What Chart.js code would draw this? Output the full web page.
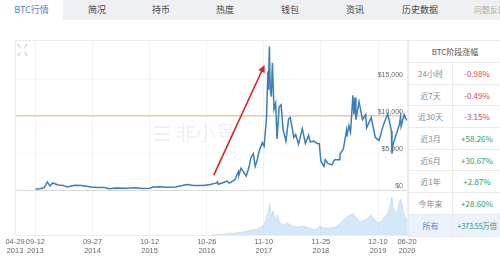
<!DOCTYPE html>
<html>
<head>
<meta charset="utf-8">
<script src="https://cdn.jsdelivr.net/npm/chart.js@4.4.1/dist/chart.umd.min.js"></script>
<style>
  body { margin: 0; width: 500px; height: 258px; overflow: hidden; background: #fff;
         font-family: "Noto Sans CJK SC", "Noto Sans", sans-serif; position: relative; }
  #tabs { position: absolute; left: 0; top: 0; width: 500px; height: 20px; background: #eef0f3; z-index: 3; }
  #tabs span { position: absolute; top: 0; line-height: 20px; font-size: 9px; color: #444; transform: translateX(-50%); white-space: nowrap; }
  #tabs .on { left: 0; width: 63px; background: #fff; color: #4d86cc; transform: none; text-align: center; }
  #wrap { position: absolute; left: 0; top: 0; }
  #mark { position: absolute; left: 153px; top: 118px; font-size: 20px; color: rgba(0,0,0,0.06); white-space: nowrap; z-index: 2; }
  #icon { position: absolute; left: 17px; top: 42px; font-size: 5px; line-height: 7px; color: #999; z-index: 2; }
  #tbl { position: absolute; left: 408px; top: 40px; width: 94px; border-collapse: collapse; background: #fff; z-index: 2; }
  #tbl td { border: 1px solid #e9e9e9; height: 20.7px; padding: 0; font-size: 8px; text-align: center; color: #888; white-space: nowrap; }
  #tbl td.v { width: 48px; }
  #tbl .hd td { height: 21px; color: #555; }
  .neg { color: #c94a5e !important; }
  .pos { color: #2b9a6b !important; }
  #tbl .all td { background: #eaf2fb; }
  #tbl .all td:first-child { color: #4d86cc; }
  #tbl .all td.v { font-size: 7.5px; letter-spacing: -0.3px; }
</style>
</head>
<body>
<div id="tabs">
  <span class="on">BTC行情</span>
  <span style="left:97px">简况</span>
  <span style="left:161px">持币</span>
  <span style="left:225px">热度</span>
  <span style="left:290px">钱包</span>
  <span style="left:355px">资讯</span>
  <span style="left:420px">历史数据</span>
  <span style="left:490px;color:#aaa;font-size:8px">问题反馈</span>
</div>
<div id="wrap"><canvas id="chart" width="420" height="258"></canvas></div>
<div id="mark">☰ 非小号</div>
<div id="icon">↖ ↗<br>↙ ↘</div>
<table id="tbl">
  <tr class="hd"><td colspan="2">BTC阶段涨幅</td></tr>
  <tr><td>24小时</td><td class="v neg">-0.98%</td></tr>
  <tr><td>近7天</td><td class="v neg">-0.49%</td></tr>
  <tr><td>近30天</td><td class="v neg">-3.15%</td></tr>
  <tr><td>近3月</td><td class="v pos">+58.26%</td></tr>
  <tr><td>近6月</td><td class="v pos">+30.67%</td></tr>
  <tr><td>近1年</td><td class="v pos">+2.87%</td></tr>
  <tr><td>今年来</td><td class="v pos">+28.60%</td></tr>
  <tr class="all"><td>所有</td><td class="v pos">+373.55万倍</td></tr>
</table>
<script>
// 价格 (USD)
const priceDates = [
  '2013-09-12','2013-10-15','2013-11-10','2013-11-30','2013-12-18','2014-01-05','2014-02-10','2014-03-15',
  '2014-04-10','2014-06-01','2014-07-15','2014-09-20','2014-11-01','2014-12-15','2015-01-14','2015-03-01',
  '2015-05-01','2015-07-10','2015-08-25','2015-10-15','2015-11-04','2015-12-15','2016-02-01','2016-04-01',
  '2016-06-17','2016-08-01','2016-10-01','2016-11-20','2016-12-31','2017-01-05','2017-01-11','2017-02-20',
  '2017-03-10','2017-03-25','2017-04-30','2017-05-25','2017-05-28','2017-06-11','2017-07-16','2017-08-05',
  '2017-08-15','2017-09-01','2017-09-14','2017-09-25','2017-10-12','2017-10-31','2017-11-12','2017-11-28',
  '2017-12-07','2017-12-10','2017-12-17','2017-12-22','2017-12-30','2018-01-06','2018-01-17','2018-01-28',
  '2018-02-06','2018-02-20','2018-03-05','2018-03-18','2018-04-06','2018-04-24','2018-05-05','2018-05-29',
  '2018-06-10','2018-06-29','2018-07-24','2018-08-14','2018-09-04','2018-09-15','2018-10-10','2018-10-30',
  '2018-11-14','2018-11-25','2018-12-15','2018-12-24','2019-01-10','2019-02-07','2019-02-24','2019-03-31',
  '2019-04-02','2019-04-23','2019-05-14','2019-05-17','2019-05-30','2019-06-10','2019-06-26','2019-07-02',
  '2019-07-10','2019-07-16','2019-08-06','2019-08-29','2019-09-19','2019-09-25','2019-10-26','2019-11-22',
  '2019-12-17','2020-01-15','2020-02-13','2020-03-08','2020-03-12','2020-03-20','2020-04-06','2020-04-30',
  '2020-05-08','2020-05-12','2020-06-01','2020-06-10','2020-06-20'
];
const prices = [
  130, 160, 330, 1100, 550, 950, 680, 620,
  420, 650, 620, 410, 330, 350, 180, 260,
  235, 290, 210, 250, 410, 450, 370, 420,
  750, 600, 610, 740, 960, 1100, 780, 1050,
  1200, 940, 1350, 2500, 2000, 2950, 1900, 3200,
  4300, 4900, 3200, 3900, 5400, 6400, 5900, 9800,
  16000, 13500, 19400, 13800, 12600, 17200, 10900, 11700,
  6900, 11200, 11500, 8200, 6600, 9600, 9800, 7100,
  7500, 6200, 8300, 6300, 7400, 6500, 6600, 6300,
  6300, 3900, 3200, 4100, 3600, 3400, 4100, 4100,
  4900, 5500, 8000, 7200, 8700, 7800, 12800, 10200,
  12500, 9500, 11900, 9500, 10200, 8400, 9800, 7100,
  6700, 8800, 10300, 8000, 4900, 6200, 7300, 8800,
  9900, 8600, 10200, 9700, 9400
];

// 成交量 (相对值)
const volumeDates = [
  '2016-12-01','2017-03-01','2017-05-01','2017-07-01','2017-08-20','2017-10-01','2017-11-10','2017-12-08',
  '2017-12-20','2017-12-28','2018-01-10','2018-01-25','2018-02-06','2018-02-25','2018-03-20','2018-04-15',
  '2018-05-20','2018-06-25','2018-08-01','2018-09-10','2018-10-15','2018-11-20','2018-12-20','2019-01-20',
  '2019-03-01','2019-04-05','2019-05-15','2019-06-27','2019-07-15','2019-08-15','2019-09-25','2019-10-26',
  '2019-11-22','2019-12-20','2020-01-15','2020-02-15','2020-03-12','2020-03-20','2020-04-15','2020-04-30',
  '2020-05-10','2020-05-25','2020-06-10','2020-06-20'
];
const volumes = [
  0, 1, 2, 3, 5, 6, 10, 22,
  32, 18, 24, 14, 20, 12, 10, 12,
  9, 8, 9, 7, 5, 9, 7, 7,
  8, 12, 18, 22, 18, 13, 16, 20,
  14, 12, 17, 22, 38, 26, 22, 33,
  36, 24, 18, 14
];

// 横轴刻度
const xTickDates = ['2013-04-29','2013-09-12','2014-09-27','2015-10-12','2016-10-26','2017-11-10','2018-11-25','2019-12-10','2020-06-20'];
const yTicks = [0, 5000, 10000, 15000];
const markLine = 10000;

// 箭头 (数据坐标)
const arrowFrom = { date: '2016-12-12', price: 2000 };
const arrowTo = { date: '2017-11-15', price: 16900 };

function dayNum(s) {
    const [y, m, d] = s.split('-').map(Number);
    return Date.UTC(y, m - 1, d) / 86400000;
}

const arrowPlugin = {
    id: 'arrow',
    afterDatasetsDraw(chart) {
        const { ctx, chartArea, scales } = chart;
        // ramka wykresu
        ctx.save();
        ctx.strokeStyle = '#ececec';
        ctx.lineWidth = 1;
        ctx.strokeRect(chartArea.left + 0.5, chartArea.top + 0.5, chartArea.right - chartArea.left, chartArea.bottom - chartArea.top);

        const x1 = scales.x.getPixelForValue(dayNum(arrowFrom.date));
        const y1 = scales.y.getPixelForValue(arrowFrom.price);
        const x2 = scales.x.getPixelForValue(dayNum(arrowTo.date));
        const y2 = scales.y.getPixelForValue(arrowTo.price);
        const ang = Math.atan2(y2 - y1, x2 - x1);
        const hl = 8;
        ctx.strokeStyle = '#d7222d';
        ctx.fillStyle = '#d7222d';
        ctx.lineWidth = 1.6;
        ctx.beginPath();
        ctx.moveTo(x1, y1);
        ctx.lineTo(x2 - Math.cos(ang) * hl * 0.8, y2 - Math.sin(ang) * hl * 0.8);
        ctx.stroke();
        ctx.beginPath();
        ctx.moveTo(x2, y2);
        ctx.lineTo(x2 - hl * Math.cos(ang - 0.45), y2 - hl * Math.sin(ang - 0.45));
        ctx.lineTo(x2 - hl * Math.cos(ang + 0.45), y2 - hl * Math.sin(ang + 0.45));
        ctx.closePath();
        ctx.fill();
        ctx.restore();
    }
};

new Chart(document.getElementById('chart'), {
    type: 'line',
    data: {
        datasets: [
            {
                label: '价格',
                data: priceDates.map((d, i) => ({ x: dayNum(d), y: prices[i] })),
                yAxisID: 'y',
                borderColor: '#3b7fb8',
                borderWidth: 1.5,
                pointRadius: 0,
                fill: false,
                tension: 0,
                order: 1
            },
            {
                label: '成交量',
                data: volumeDates.map((d, i) => ({ x: dayNum(d), y: volumes[i] })),
                yAxisID: 'v',
                borderColor: 'rgba(170,205,242,0.9)',
                backgroundColor: 'rgba(185,215,245,0.6)',
                borderWidth: 0.5,
                pointRadius: 0,
                fill: 'origin',
                tension: 0,
                order: 2
            }
        ]
    },
    options: {
        responsive: false,
        animation: false,
        devicePixelRatio: 1,
        layout: { padding: { left: 15, top: 40, right: 13, bottom: 0 } },
        plugins: { legend: { display: false }, tooltip: { enabled: false } },
        scales: {
            x: {
                type: 'linear',
                min: dayNum(xTickDates[0]),
                max: dayNum(xTickDates[xTickDates.length - 1]),
                afterBuildTicks: s => { s.ticks = xTickDates.map(d => ({ value: dayNum(d) })); },
                afterFit: s => { s.height = 23; },
                grid: { color: '#f3f3f3', drawTicks: false },
                border: { display: false },
                ticks: {
                    autoSkip: false,
                    maxRotation: 0,
                    padding: 3,
                    color: '#666',
                    font: { size: 7.5, lineHeight: 1.15 },
                    callback: (v, i) => {
                        const p = xTickDates[i].split('-');
                        return [p[1] + '-' + p[2], p[0]];
                    }
                }
            },
            y: {
                type: 'linear',
                position: 'right',
                min: -6080,
                max: 20270,
                afterBuildTicks: s => { s.ticks = yTicks.map(v => ({ value: v })); },
                afterFit: s => { s.width = 0; },
                grid: {
                    drawTicks: false,
                    lineWidth: ctx => (ctx.tick && ctx.tick.value === markLine) ? 1.5 : 1,
                    color: ctx => {
                        if (!ctx.tick) return 'transparent';
                        if (ctx.tick.value === 0) return '#d9d9d9';
                        if (ctx.tick.value === markLine) return '#eccb9b';
                        return 'rgba(0,0,0,0.025)';
                    }
                },
                border: { display: false },
                ticks: {
                    mirror: true,
                    padding: -4,
                    labelOffset: -4,
                    color: '#666',
                    font: { size: 7 },
                    callback: v => '$' + v.toLocaleString('en-US')
                }
            },
            v: {
                type: 'linear',
                display: false,
                min: 0,
                max: 195
            }
        }
    },
    plugins: [arrowPlugin]
});
</script>
</body>
</html>
